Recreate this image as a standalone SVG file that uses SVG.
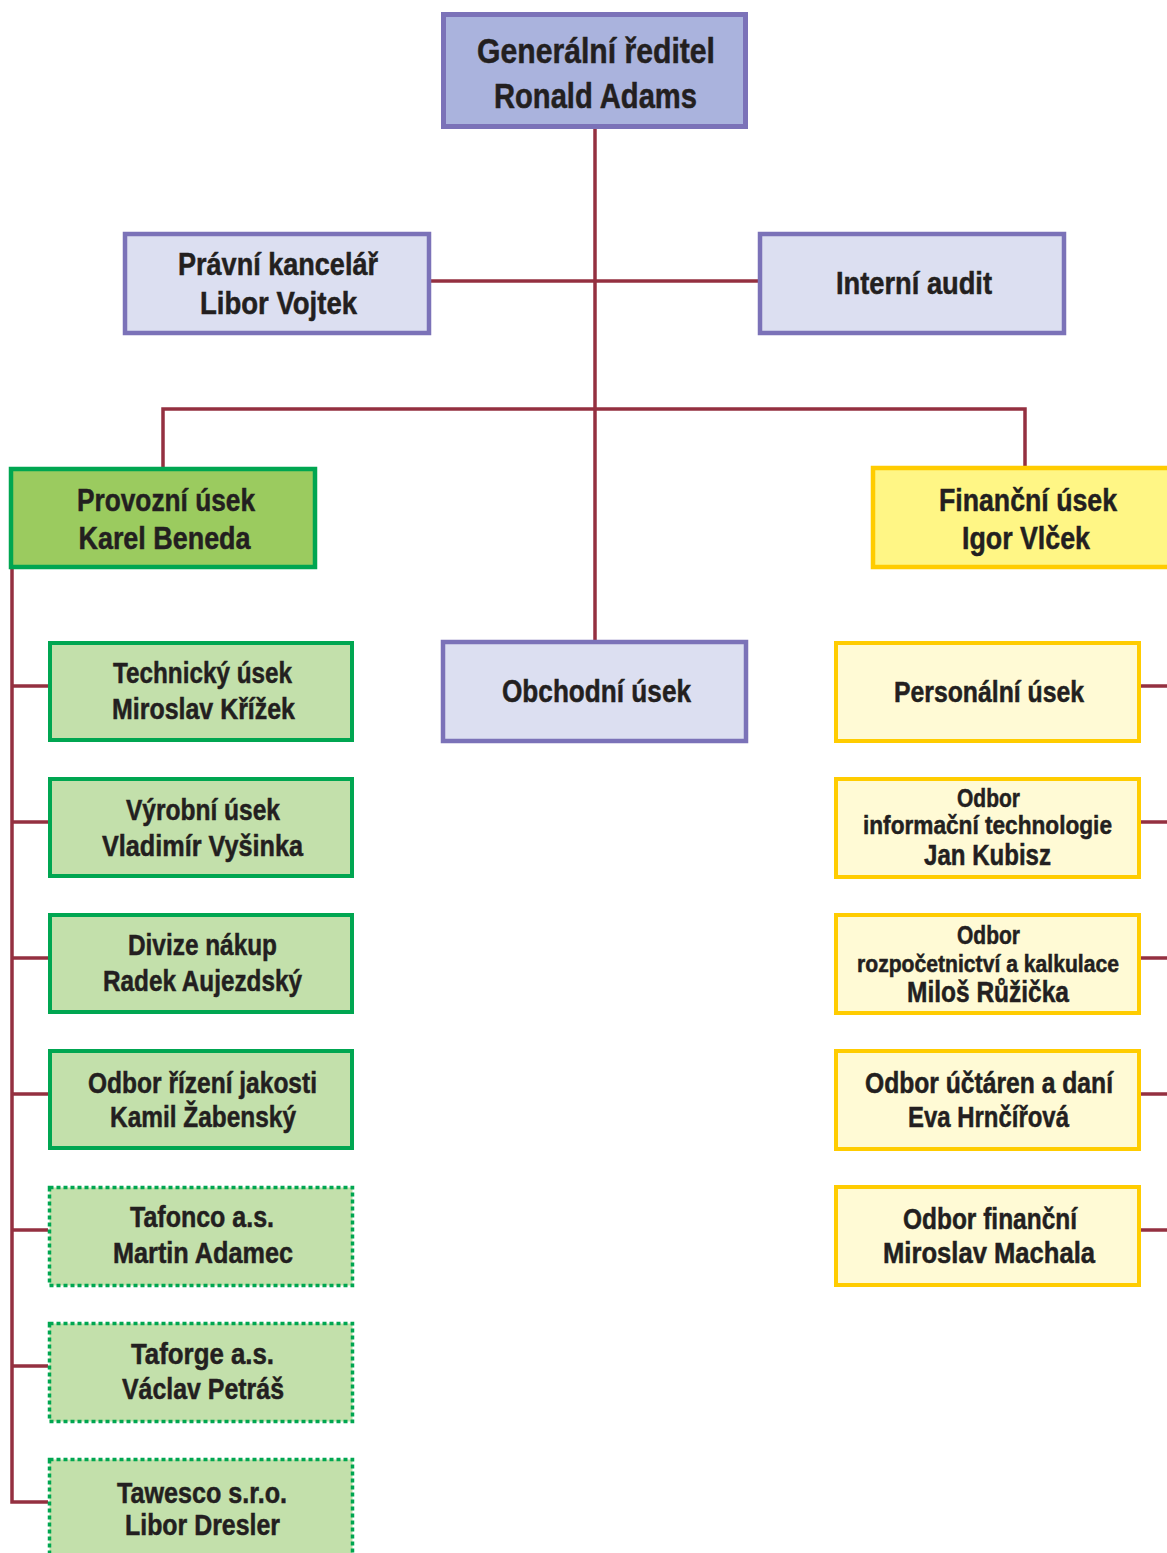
<svg xmlns="http://www.w3.org/2000/svg" width="1167" height="1553" viewBox="0 0 1167 1553">
<style>
text{font-family:"Liberation Sans Narrow","Liberation Sans",Arial,sans-serif;font-weight:bold;fill:#231f20;stroke:#231f20;stroke-width:0.5;text-anchor:middle}
.t34{font-size:35px}
.t30{font-size:31px}
.t25{font-size:25px}
.t24{font-size:23px}
.t28{font-size:29px}
.top{fill:#aab3dd;stroke:#7b72b8;stroke-width:5}
.lp{fill:#dcdff1;stroke:#7b72b8;stroke-width:4.5}
.gmain{fill:#9bcb5f;stroke:#00a651;stroke-width:4.5}
.gc{fill:#c3e0ab;stroke:#00a651;stroke-width:4}
.gd{fill:#c3e0ab;stroke:#00a651;stroke-width:3.5;stroke-dasharray:4 3}
.ymain{fill:#fff685;stroke:#ffcc00;stroke-width:4.5}
.yc{fill:#fffad5;stroke:#ffcc00;stroke-width:4}
.con{fill:none;stroke:#943040;stroke-width:3.5}
</style>
<g id="connectors">
<path class="con" d="M595 129V642"/>
<path class="con" d="M431 281H758"/>
<path class="con" d="M163 467V409H1025V466"/>
<path class="con" d="M12 569V1502H48"/>
<path class="con" d="M12 686H48M12 822H48M12 958H48M12 1094H48M12 1230H48M12 1366H48"/>
<path class="con" d="M1141 686H1167M1141 822H1167M1141 958H1167M1141 1094H1167M1141 1230H1167"/>
</g>
<g id="n-gr">
<rect class="top" x="443.5" y="14.5" width="302" height="112"/>
<text class="t34" x="596" y="63" textLength="238" lengthAdjust="spacingAndGlyphs">Generální ředitel</text>
<text class="t34" x="595.5" y="108" textLength="203" lengthAdjust="spacingAndGlyphs">Ronald Adams</text>
</g>
<g id="n-pravni">
<rect class="lp" x="125" y="234" width="304" height="99"/>
<text class="t30" x="278" y="275" textLength="200" lengthAdjust="spacingAndGlyphs">Právní kancelář</text>
<text class="t30" x="278.5" y="314" textLength="157" lengthAdjust="spacingAndGlyphs">Libor Vojtek</text>
</g>
<g id="n-audit">
<rect class="lp" x="760" y="234" width="304" height="99"/>
<text class="t30" x="914" y="294" textLength="156" lengthAdjust="spacingAndGlyphs">Interní audit</text>
</g>
<g id="n-provozni">
<rect class="gmain" x="11" y="469" width="304" height="98"/>
<text class="t30" x="166" y="511" textLength="178" lengthAdjust="spacingAndGlyphs">Provozní úsek</text>
<text class="t30" x="164.5" y="549" textLength="172" lengthAdjust="spacingAndGlyphs">Karel Beneda</text>
</g>
<g id="n-financni">
<rect class="ymain" x="873" y="468" width="310" height="99"/>
<text class="t30" x="1028" y="511" textLength="178" lengthAdjust="spacingAndGlyphs">Finanční úsek</text>
<text class="t30" x="1026" y="549" textLength="128" lengthAdjust="spacingAndGlyphs">Igor Vlček</text>
</g>
<g id="n-obchodni">
<rect class="lp" x="443" y="642" width="303" height="99"/>
<text class="t30" x="596.5" y="702" textLength="189" lengthAdjust="spacingAndGlyphs">Obchodní úsek</text>
</g>
<g id="n-technicky">
<rect class="gc" x="50" y="643" width="302" height="97"/>
<text class="t28" x="202.5" y="683" textLength="179" lengthAdjust="spacingAndGlyphs">Technický úsek</text>
<text class="t28" x="203.5" y="719" textLength="183" lengthAdjust="spacingAndGlyphs">Miroslav Křížek</text>
</g>
<g id="n-vyrobni">
<rect class="gc" x="50" y="779" width="302" height="97"/>
<text class="t28" x="203" y="820" textLength="154" lengthAdjust="spacingAndGlyphs">Výrobní úsek</text>
<text class="t28" x="202.5" y="856" textLength="201" lengthAdjust="spacingAndGlyphs">Vladimír Vyšinka</text>
</g>
<g id="n-nakup">
<rect class="gc" x="50" y="915" width="302" height="97"/>
<text class="t28" x="202.5" y="955" textLength="149" lengthAdjust="spacingAndGlyphs">Divize nákup</text>
<text class="t28" x="202.5" y="991" textLength="199" lengthAdjust="spacingAndGlyphs">Radek Aujezdský</text>
</g>
<g id="n-jakost">
<rect class="gc" x="50" y="1051" width="302" height="97"/>
<text class="t28" x="202.5" y="1093" textLength="229" lengthAdjust="spacingAndGlyphs">Odbor řízení jakosti</text>
<text class="t28" x="203" y="1127" textLength="186" lengthAdjust="spacingAndGlyphs">Kamil Žabenský</text>
</g>
<g id="n-tafonco">
<rect class="gd" x="49.5" y="1187.5" width="303" height="98"/>
<text class="t28" x="202" y="1227" textLength="144" lengthAdjust="spacingAndGlyphs">Tafonco a.s.</text>
<text class="t28" x="203" y="1263" textLength="180" lengthAdjust="spacingAndGlyphs">Martin Adamec</text>
</g>
<g id="n-taforge">
<rect class="gd" x="49.5" y="1323.5" width="303" height="98"/>
<text class="t28" x="202.5" y="1364" textLength="143" lengthAdjust="spacingAndGlyphs">Taforge a.s.</text>
<text class="t28" x="203" y="1399" textLength="162" lengthAdjust="spacingAndGlyphs">Václav Petráš</text>
</g>
<g id="n-tawesco">
<rect class="gd" x="49.5" y="1459.5" width="303" height="98"/>
<text class="t28" x="202" y="1503" textLength="170" lengthAdjust="spacingAndGlyphs">Tawesco s.r.o.</text>
<text class="t28" x="202.5" y="1535" textLength="155" lengthAdjust="spacingAndGlyphs">Libor Dresler</text>
</g>
<g id="n-personalni">
<rect class="yc" x="836" y="643" width="303" height="98"/>
<text class="t28" x="989" y="702" textLength="190" lengthAdjust="spacingAndGlyphs">Personální úsek</text>
</g>
<g id="n-it">
<rect class="yc" x="836" y="779" width="303" height="98"/>
<text class="t25" x="988.5" y="807" textLength="63" lengthAdjust="spacingAndGlyphs">Odbor</text>
<text class="t25" x="987.5" y="834" textLength="249" lengthAdjust="spacingAndGlyphs">informační technologie</text>
<text class="t28" x="987.5" y="865" textLength="127" lengthAdjust="spacingAndGlyphs">Jan Kubisz</text>
</g>
<g id="n-rozpocet">
<rect class="yc" x="836" y="915" width="303" height="98"/>
<text class="t25" x="988.5" y="944" textLength="63" lengthAdjust="spacingAndGlyphs">Odbor</text>
<text class="t24" x="988" y="972" textLength="262" lengthAdjust="spacingAndGlyphs">rozpočetnictví a kalkulace</text>
<text class="t28" x="988" y="1002" textLength="162" lengthAdjust="spacingAndGlyphs">Miloš Růžička</text>
</g>
<g id="n-uctarna">
<rect class="yc" x="836" y="1051" width="303" height="98"/>
<text class="t28" x="989" y="1093" textLength="248" lengthAdjust="spacingAndGlyphs">Odbor účtáren a daní</text>
<text class="t28" x="988.5" y="1127" textLength="161" lengthAdjust="spacingAndGlyphs">Eva Hrnčířová</text>
</g>
<g id="n-financni-odbor">
<rect class="yc" x="836" y="1187" width="303" height="98"/>
<text class="t28" x="990" y="1229" textLength="174" lengthAdjust="spacingAndGlyphs">Odbor finanční</text>
<text class="t28" x="989" y="1263" textLength="212" lengthAdjust="spacingAndGlyphs">Miroslav Machala</text>
</g>
</svg>
